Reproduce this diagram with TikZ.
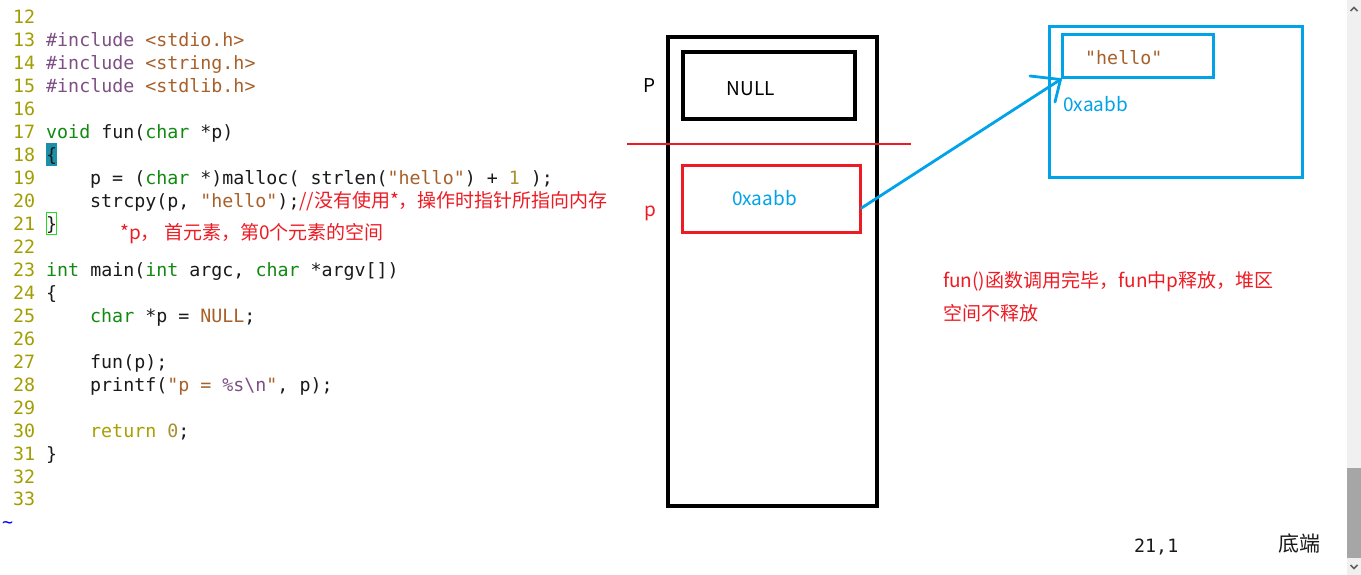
\documentclass[tikz,border=0pt]{standalone}
\usepackage{fontspec}
\newfontfamily\cmono{DejaVu Sans Mono}
\newfontfamily\cjk{Noto Sans CJK SC}
\definecolor{lnrc}{HTML}{A39E00}
\definecolor{prec}{HTML}{7D4F84}
\definecolor{strc}{HTML}{A8602A}
\definecolor{typc}{HTML}{118A11}
\definecolor{stmc}{HTML}{A8A000}
\definecolor{numc}{HTML}{A89030}
\definecolor{spcc}{HTML}{7D4F84}
\definecolor{codefg}{HTML}{1A1A1A}
\definecolor{paintred}{HTML}{ED1C24}
\definecolor{paintblue}{HTML}{00A2E8}
\definecolor{tealbg}{HTML}{1C90A8}
\definecolor{cursgreen}{HTML}{22DD22}
\definecolor{sbtrack}{HTML}{F0F0F0}
\definecolor{sbthumb}{HTML}{A6A6A6}
\definecolor{sbarrow}{HTML}{606060}
\newcommand{\kwT}[1]{\textcolor{typc}{#1}}
\newcommand{\kwS}[1]{\textcolor{strc}{#1}}
\newcommand{\kwP}[1]{\textcolor{prec}{#1}}
\newcommand{\kwN}[1]{\textcolor{numc}{#1}}
\newcommand{\kwX}[1]{\textcolor{spcc}{#1}}
\newcommand{\kwR}[1]{\textcolor{stmc}{#1}}
\tikzset{
  code/.style={anchor=base west, inner sep=0pt, text=codefg,
    font=\cmono\fontsize{18.3}{22}\selectfont},
  lnum/.style={code, text=lnrc},
  note/.style={inner sep=0pt, text=paintred, font=\cjk\fontsize{19}{22}\selectfont},
  dtext/.style={inner sep=0pt, font=\cjk\fontsize{19}{22}\selectfont},
  blackbox/.style={draw=black, line width=3.4pt, inner sep=0pt},
  redbox/.style={draw=paintred, line width=3pt, inner sep=0pt},
  bluebox/.style={draw=paintblue, line width=3pt, inner sep=0pt},
  bluearrow/.style={draw=paintblue, line width=2.8pt, line cap=round, line join=round},
}
\begin{document}
\begin{tikzpicture}[x=1pt,y=-1pt]
\useasboundingbox[fill=white] (0,0) rectangle (1361,575);
% ---------- code ----------
\foreach \n in {12,...,33}
  \node[lnum] (ln\n) at (13,{24+(\n-12)*22.95}) {\n};
\node[code] (c13) at (46,{24+1*22.95}) {\kwP{\#include} \kwS{<stdio.h>}};
\node[code] (c14) at (46,{24+2*22.95}) {\kwP{\#include} \kwS{<string.h>}};
\node[code] (c15) at (46,{24+3*22.95}) {\kwP{\#include} \kwS{<stdlib.h>}};
\node[code] (c17) at (46,{24+5*22.95}) {\kwT{void} fun(\kwT{char} *p)};
\fill[tealbg] (46,143) rectangle (57,166);
\node[code] (c18) at (46,{24+6*22.95}) {\{};
\node[code] (c19) at (90,{24+7*22.95}) {p = (\kwT{char} *)malloc( strlen(\kwS{"hello"}) + \kwN{1} );};
\node[code] (c20) at (90,{24+8*22.95}) {strcpy(p, \kwS{"hello"});};
\node[note, anchor=base west] (cm20) at (299,{24+8*22.95}) {//没有使用*，操作时指针所指向内存};
\draw[cursgreen, line width=1.2pt] (46.6,212.6) rectangle (56.4,234.4);
\node[code] (c21) at (46,{24+9*22.95}) {\}};
\node[note, anchor=base west] (cm21) at (120,240) {*p， 首元素，第0个元素的空间};
\node[code] (c23) at (46,{24+11*22.95}) {\kwT{int} main(\kwT{int} argc, \kwT{char} *argv[])};
\node[code] (c24) at (46,{24+12*22.95}) {\{};
\node[code] (c25) at (90,{24+13*22.95}) {\kwT{char} *p = \kwS{NULL};};
\node[code] (c27) at (90,{24+15*22.95}) {fun(p);};
\node[code] (c28) at (90,{24+16*22.95}) {printf(\kwS{"p = }\kwX{\%s\textbackslash n}\kwS{"}, p);};
\node[code] (c30) at (90,{24+18*22.95}) {\kwR{return} \kwN{0};};
\node[code] (c31) at (46,{24+19*22.95}) {\}};
\node[code, text=blue] (tilde) at (2,{24+22*22.95}) {\textasciitilde};
% ---------- stack ----------
\node[blackbox, minimum width=209pt, minimum height=469pt] (stack) at (772.5,271.5) {};
\node[blackbox, minimum width=172pt, minimum height=67pt] (nullbox) at (769,85.5) {};
\node[dtext, anchor=base] (nulltxt) at (751,96) {NULL};
\node[dtext, anchor=base] (plabel) at (650,93) {P};
\draw[paintred, line width=2.4pt] (627,144) -- (911,144);
\node[redbox, minimum width=178pt, minimum height=67pt] (ptrbox) at (771,199) {};
\node[dtext, anchor=base, text=paintblue] (ptrtxt) at (764.5,206) {0xaabb};
\node[dtext, anchor=base, text=paintred] (p2label) at (650,216) {p};
% ---------- heap ----------
\node[bluebox, minimum width=253pt, minimum height=150.5pt] (heap) at (1175.5,102.25) {};
\node[bluebox, minimum width=151pt, minimum height=43pt] (hellobox) at (1137.5,56.5) {};
\node[code, text=strc] (hellotxt) at (1085,64.5) {"hello"};
\node[dtext, anchor=base west, text=paintblue] (heaptxt) at (1063,112) {0xaabb};
\coordinate (armA) at (1030,76);
\coordinate (armB) at (1055,102);
\draw[bluearrow] ([yshift=-9pt]ptrbox.east) -- (hellobox.south west);
\draw[bluearrow] (armA) -- (hellobox.south west) -- (armB);
% ---------- note ----------
\node[note, anchor=base west] (n1) at (943,287) {fun()函数调用完毕，fun中p释放，堆区};
\node[note, anchor=base west] (n2) at (943,320) {空间不释放};
% ---------- status line ----------
\node[code] (pos) at (1134,552) {21,1};
\node[inner sep=0pt, anchor=base west, text=codefg, font=\cjk\fontsize{21}{24}\selectfont] (bottom) at (1278,551) {底端};
% ---------- scrollbar ----------
\fill[sbtrack] (1347,0) rectangle (1361,575);
\fill[sbthumb] (1347,468) rectangle (1361,558);
\draw[sbarrow, line width=1.5pt] (1350.5,11) -- (1354,7.5) -- (1357.5,11);
\draw[sbarrow, line width=1.5pt] (1350.5,565) -- (1354,568.5) -- (1357.5,565);
\end{tikzpicture}
\end{document}
